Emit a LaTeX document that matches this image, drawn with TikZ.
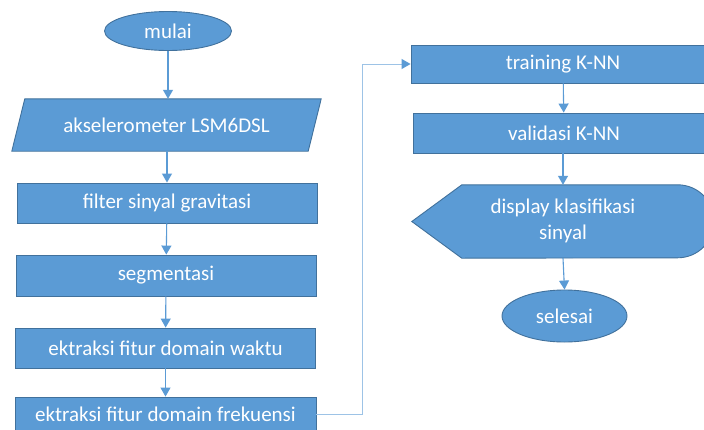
\documentclass[tikz,border=0pt]{standalone}
\usepackage{fontspec}
\setmainfont{Carlito}
\usetikzlibrary{shapes.geometric,arrows.meta}
\definecolor{boxfill}{HTML}{5B9BD5}
\definecolor{boxline}{HTML}{41719C}
\definecolor{arrowc}{HTML}{5B9BD5}
\definecolor{longc}{HTML}{9DC3E6}
\begin{document}
\begin{tikzpicture}[x=1pt,y=-1pt,
  txt/.style={text=white,font=\fontsize{21}{26}\selectfont,align=center,inner sep=0pt},
  procbox/.style={txt,rectangle,draw=boxline,fill=boxfill,line width=0.9pt},
  termbox/.style={txt,ellipse,draw=boxline,fill=boxfill,line width=0.9pt},
  ghost/.style={txt,rectangle},
  flow/.style={draw=arrowc,line width=1.1pt,-{Triangle[width=10pt,length=9pt]}},
  longflow/.style={draw=longc,line width=1pt,-{Triangle[width=10pt,length=9pt,color=arrowc,fill=arrowc]}},
  shapefill/.style={draw=boxline,fill=boxfill,line width=0.9pt}]
\clip (0,0) rectangle (704,429);
\fill[white] (0,0) rectangle (704,429);

% left column
\node[termbox,minimum width=127,minimum height=39] (mulai) at (168,31) {mulai};

\node[ghost,minimum width=296,minimum height=52] (aks) at (166.5,125) {};
\path[shapefill] ([xshift=6.5pt]aks.north west) -- ([xshift=6.5pt]aks.north east)
  -- ([xshift=-6.5pt]aks.south east) -- ([xshift=-6.5pt]aks.south west) -- cycle;
\node[txt] at (aks) {akselerometer LSM6DSL};

\node[procbox,minimum width=300,minimum height=40] (filter) at (167,203) {filter sinyal gravitasi};
\node[procbox,minimum width=300,minimum height=41] (seg) at (166,275.5) {segmentasi};
\node[procbox,minimum width=300,minimum height=40] (waktu) at (165.5,348) {ektraksi fitur domain waktu};
\node[procbox,minimum width=301,minimum height=34] (frek) at (165.5,414) {ektraksi fitur domain frekuensi};

% right column
\node[procbox,minimum width=304,minimum height=38] (train) at (563,64) {training K-NN};
\node[procbox,minimum width=302,minimum height=40] (valid) at (564,133) {validasi K-NN};

\node[ghost,minimum width=302,minimum height=73] (disp) at (563,221.5) {};
\path[shapefill] (disp.west) -- ([xshift=50pt]disp.north west) -- ([xshift=-36.5pt]disp.north east)
  arc[start angle=-90,end angle=90,radius=36.5] -- ([xshift=50pt]disp.south west) -- cycle;
\node[txt] at ([yshift=1pt]disp) {display klasifikasi\\sinyal};

\node[termbox,minimum width=125,minimum height=52] (selesai) at (564.5,316) {selesai};

% connectors
\draw[flow] (mulai.south) -- (aks.north -| mulai.south);
\draw[flow] (aks.south -| filter.north) -- (filter.north);
\draw[flow] (filter) -- (seg);
\draw[flow] (seg) -- (waktu);
\draw[flow] (waktu) -- (frek);
\coordinate (bend) at (362,64);
\draw[longflow] (frek.east) -| (bend) -- (train.west);
\draw[flow] (train) -- (valid);
\draw[flow] (valid.south -| disp.north) -- (disp.north);
\draw[flow] (disp.south) -- (selesai.north);
\end{tikzpicture}
\end{document}
